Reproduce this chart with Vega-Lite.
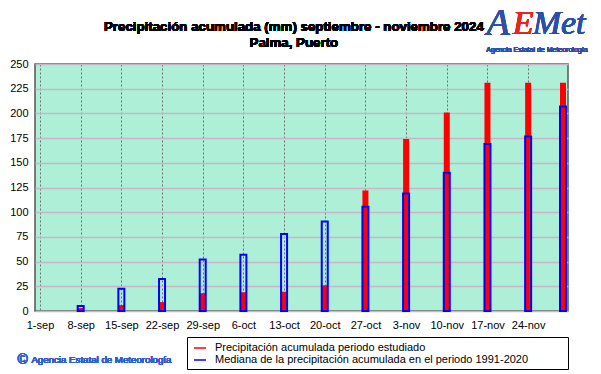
{
  "$schema": "https://vega.github.io/schema/vega-lite/v6.json",
  "width": 533,
  "height": 247,
  "autosize": {"type": "none"},
  "padding": {"left": 35, "top": 64, "right": 33, "bottom": 63},
  "background": "white",
  "data": {
    "values": [
      {"fecha": "2024-09-08", "estudiado": 3, "mediana": 5},
      {"fecha": "2024-09-15", "estudiado": 6, "mediana": 22.5},
      {"fecha": "2024-09-22", "estudiado": 9, "mediana": 32.5},
      {"fecha": "2024-09-29", "estudiado": 18, "mediana": 52},
      {"fecha": "2024-10-06", "estudiado": 19, "mediana": 57},
      {"fecha": "2024-10-13", "estudiado": 19.5, "mediana": 78},
      {"fecha": "2024-10-20", "estudiado": 26, "mediana": 90.5},
      {"fecha": "2024-10-27", "estudiado": 122, "mediana": 105.5},
      {"fecha": "2024-11-03", "estudiado": 174, "mediana": 119},
      {"fecha": "2024-11-10", "estudiado": 201, "mediana": 140},
      {"fecha": "2024-11-17", "estudiado": 231, "mediana": 169},
      {"fecha": "2024-11-24", "estudiado": 231, "mediana": 176.5},
      {"fecha": "2024-11-30", "estudiado": 231, "mediana": 207}
    ]
  },
  "encoding": {
    "x": {
      "field": "fecha",
      "type": "temporal",
      "scale": {
        "type": "utc",
        "domain": [
          {"year": 2024, "month": "sep", "date": 1, "utc": true},
          {"year": 2024, "month": "nov", "date": 30, "utc": true}
        ]
      },
      "axis": {
        "title": null,
        "values": [
          {"year": 2024, "month": "sep", "date": 1, "utc": true},
          {"year": 2024, "month": "sep", "date": 8, "utc": true},
          {"year": 2024, "month": "sep", "date": 15, "utc": true},
          {"year": 2024, "month": "sep", "date": 22, "utc": true},
          {"year": 2024, "month": "sep", "date": 29, "utc": true},
          {"year": 2024, "month": "oct", "date": 6, "utc": true},
          {"year": 2024, "month": "oct", "date": 13, "utc": true},
          {"year": 2024, "month": "oct", "date": 20, "utc": true},
          {"year": 2024, "month": "oct", "date": 27, "utc": true},
          {"year": 2024, "month": "nov", "date": 3, "utc": true},
          {"year": 2024, "month": "nov", "date": 10, "utc": true},
          {"year": 2024, "month": "nov", "date": 17, "utc": true},
          {"year": 2024, "month": "nov", "date": 24, "utc": true}
        ],
        "labelExpr": "lower(utcFormat(datum.value, '%-d-%b'))"
      }
    },
    "y": {
      "field": "estudiado",
      "type": "quantitative",
      "scale": {"domain": [0, 250], "nice": false, "zero": true},
      "axis": {"title": null, "values": [0, 25, 50, 75, 100, 125, 150, 175, 200, 225, 250], "tickCount": 11}
    }
  },
  "layer": [
    {
      "mark": {"type": "bar", "width": 6},
      "encoding": {
        "color": {
          "datum": "Precipitación acumulada periodo estudiado",
          "type": "nominal",
          "scale": {
            "domain": ["Precipitación acumulada periodo estudiado", "Mediana de la precipitación acumulada en el periodo 1991-2020"],
            "range": ["#ff0000", "#0000ff"]
          },
          "legend": {
            "orient": "none",
            "legendX": 152,
            "legendY": 273,
            "direction": "vertical",
            "title": " ",
            "titleOrient": "right",
            "titlePadding": 36,
            "titleFontSize": 2,
            "strokeColor": "black",
            "fillColor": "white",
            "padding": 4,
            "rowPadding": 0,
            "symbolType": "stroke",
            "symbolSize": 144,
            "symbolStrokeWidth": 1.5,
            "symbolOffset": 2,
            "labelOffset": 8,
            "labelFontSize": 11,
            "labelFont": "Liberation Sans",
            "labelColor": "black",
            "labelLimit": 500,
            "encode": {
              "symbols": {
                "update": {
                  "stroke": {"scale": "color", "field": "value"},
                  "strokeWidth": {"value": 1.5}
                }
              }
            }
          }
        }
      }
    },
    {
      "mark": {"type": "bar", "width": 6, "filled": false, "strokeWidth": 2},
      "encoding": {
        "y": {
          "field": "mediana",
          "type": "quantitative",
          "axis": {"title": null, "values": [0, 25, 50, 75, 100, 125, 150, 175, 200, 225, 250], "tickCount": 11}
        },
        "color": {"datum": "Mediana de la precipitación acumulada en el periodo 1991-2020", "type": "nominal"}
      }
    },
    {
      "mark": {"type": "text", "text": "Precipitación acumulada (mm) septiembre  - noviembre 2024", "fontSize": 13.3, "fontWeight": "bold", "color": "black", "dx": 4},
      "encoding": {
        "x": {"datum": {"year": 2024, "month": "oct", "date": 14, "utc": true}, "type": "temporal"},
        "y": {"datum": 287.4, "type": "quantitative", "axis": {"title": null, "values": [0, 25, 50, 75, 100, 125, 150, 175, 200, 225, 250], "tickCount": 11}}
      }
    },
    {
      "mark": {"type": "text", "text": "Palma, Puerto", "fontSize": 13.3, "fontWeight": "bold", "color": "black", "dx": 4},
      "encoding": {
        "x": {"datum": {"year": 2024, "month": "oct", "date": 14, "utc": true}, "type": "temporal"},
        "y": {"datum": 271.3, "type": "quantitative", "axis": {"title": null, "values": [0, 25, 50, 75, 100, 125, 150, 175, 200, 225, 250], "tickCount": 11}}
      }
    },
    {
      "mark": {"type": "text", "text": "A", "font": "Liberation Serif", "fontStyle": "italic", "fontSize": 38, "color": "#2b4faa", "dx": -30},
      "encoding": {
        "x": {"datum": {"year": 2024, "month": "nov", "date": 24, "utc": true}, "type": "temporal"},
        "y": {"datum": 290, "type": "quantitative", "axis": {"title": null, "values": [0, 25, 50, 75, 100, 125, 150, 175, 200, 225, 250], "tickCount": 11}}
      }
    },
    {
      "mark": {"type": "text", "text": "E", "font": "Liberation Serif", "fontStyle": "italic", "fontSize": 34, "color": "#e52620", "dx": -5},
      "encoding": {
        "x": {"datum": {"year": 2024, "month": "nov", "date": 24, "utc": true}, "type": "temporal"},
        "y": {"datum": 290, "type": "quantitative", "axis": {"title": null, "values": [0, 25, 50, 75, 100, 125, 150, 175, 200, 225, 250], "tickCount": 11}}
      }
    },
    {
      "mark": {"type": "text", "text": "Met", "font": "Liberation Serif", "fontStyle": "italic", "fontSize": 34, "color": "#2b4faa", "dx": 31},
      "encoding": {
        "x": {"datum": {"year": 2024, "month": "nov", "date": 24, "utc": true}, "type": "temporal"},
        "y": {"datum": 290, "type": "quantitative", "axis": {"title": null, "values": [0, 25, 50, 75, 100, 125, 150, 175, 200, 225, 250], "tickCount": 11}}
      }
    },
    {
      "mark": {"type": "text", "text": "Agencia Estatal de Meteorología", "fontSize": 7, "color": "#2b4faa", "dx": 3},
      "encoding": {
        "x": {"datum": {"year": 2024, "month": "nov", "date": 25, "utc": true}, "type": "temporal"},
        "y": {"datum": 264, "type": "quantitative", "axis": {"title": null, "values": [0, 25, 50, 75, 100, 125, 150, 175, 200, 225, 250], "tickCount": 11}}
      }
    },
    {
      "mark": {"type": "text", "text": "©", "fontSize": 14, "color": "#2f5fd0"},
      "encoding": {
        "x": {"datum": {"year": 2024, "month": "aug", "date": 29, "utc": true}, "type": "temporal"},
        "y": {"datum": -49.5, "type": "quantitative", "axis": {"title": null, "values": [0, 25, 50, 75, 100, 125, 150, 175, 200, 225, 250], "tickCount": 11}}
      }
    },
    {
      "mark": {"type": "text", "text": "Agencia Estatal de Meteorología", "fontSize": 9.7, "color": "#2f5fd0", "align": "left", "dx": 3},
      "encoding": {
        "x": {"datum": {"year": 2024, "month": "aug", "date": 30, "utc": true}, "type": "temporal"},
        "y": {"datum": -49.5, "type": "quantitative", "axis": {"title": null, "values": [0, 25, 50, 75, 100, 125, 150, 175, 200, 225, 250], "tickCount": 11}}
      }
    }
  ],
  "config": {
    "font": "Liberation Sans",
    "view": {"fill": "#aeefd8", "stroke": "#555555", "strokeWidth": 1.5},
    "text": {"align": "center", "baseline": "middle", "fontWeight": "normal", "font": "Liberation Sans"},
    "axisX": {
      "grid": true,
      "gridColor": "#6e6e6e",
      "gridDash": [2, 2],
      "gridWidth": 1,
      "ticks": false,
      "tickSize": 0,
      "domain": false,
      "labelPadding": 8,
      "labelFontSize": 11,
      "labelFont": "Liberation Sans",
      "labelColor": "black",
      "labelFlush": false,
      "labelOverlap": false
    },
    "axisY": {
      "grid": true,
      "gridColor": "#c6b6c6",
      "gridWidth": 1.6,
      "ticks": false,
      "tickSize": 0,
      "domain": false,
      "labelPadding": 7,
      "labelFontSize": 11,
      "labelFont": "Liberation Sans",
      "labelColor": "black",
      "labelFlush": false,
      "labelOverlap": false
    }
  }
}
